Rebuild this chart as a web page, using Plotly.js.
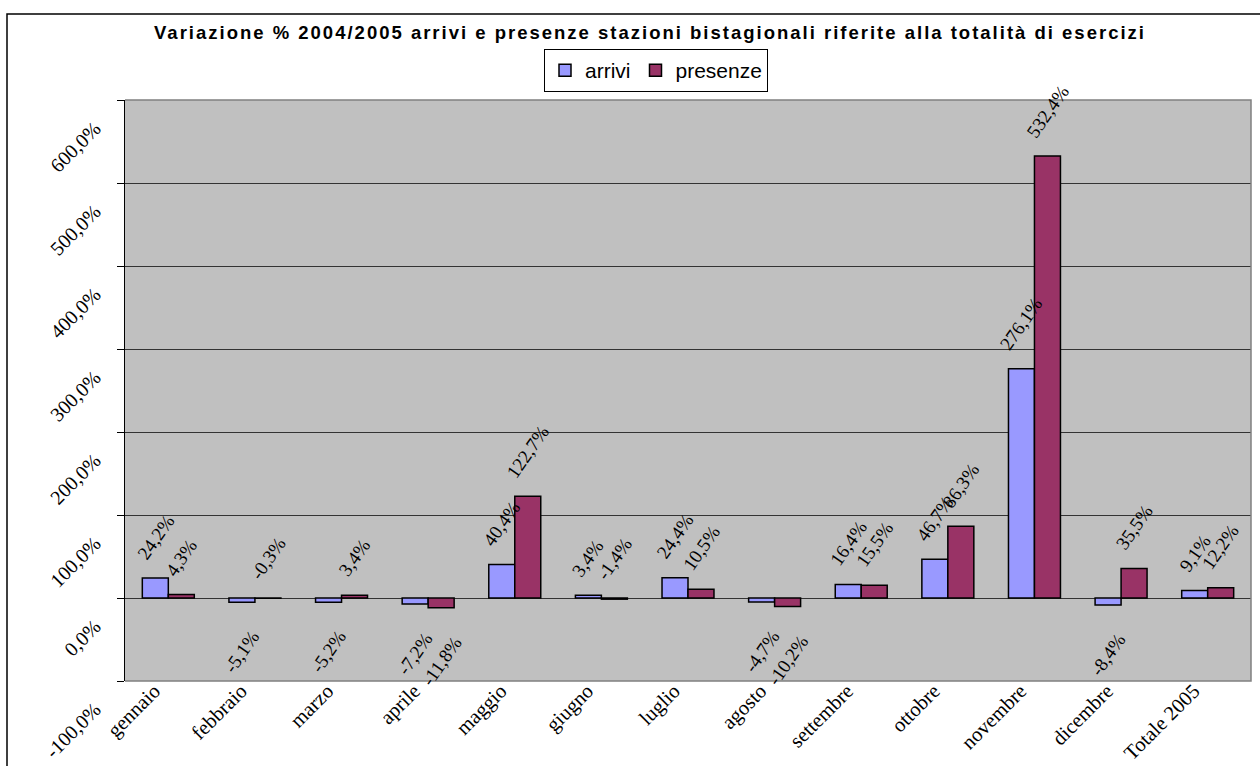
<!DOCTYPE html>
<html>
<head>
<meta charset="utf-8">
<script src="https://cdn.plot.ly/plotly-3.0.1.min.js"></script>
<style>
html,body{margin:0;padding:0;background:#fff;}
#chart{width:1260px;height:766px;}
#chart .gtitle{letter-spacing:2px;}
</style>
</head>
<body>
<div id="chart"></div>
<script>
const months = ["gennaio","febbraio","marzo","aprile","maggio","giugno","luglio","agosto","settembre","ottobre","novembre","dicembre","Totale 2005"];
const arrivi = [24.2,-5.1,-5.2,-7.2,40.4,3.4,24.4,-4.7,16.4,46.7,276.1,-8.4,9.1];
const presenze = [4.3,-0.3,3.4,-11.8,122.7,-1.4,10.5,-10.2,15.5,86.3,532.4,35.5,12.2];
const yTicks = [-100,0,100,200,300,400,500,600];

const W = 1260, H = 766;
const M = {l:125, r:9, t:100, b:85};
const PW = W - M.l - M.r, PH = H - M.t - M.b;
const px2x = p => (p - M.l) / PW;
const px2y = p => (H - M.b - p) / PH;

const fmt = v => v.toFixed(1).replace('.', ',') + '%';
const serif = "'Liberation Serif', 'Times New Roman', serif";
const sans = "'Liberation Sans', Arial, sans-serif";

const traces = [
  {type:'bar', name:'arrivi', x:months, y:arrivi,
   marker:{color:'#9999FF', line:{color:'#000', width:1.5}}, hoverinfo:'x+y'},
  {type:'bar', name:'presenze', x:months, y:presenze,
   marker:{color:'#993366', line:{color:'#000', width:1.5}}, hoverinfo:'x+y'}
];

const annotations = [];
function addLabels(vals, shift) {
  vals.forEach((v, i) => {
    const above = v >= -2;
    annotations.push({
      x: months[i], y: above ? Math.max(v, 0) : v, xref:'x', yref:'y',
      text: fmt(v), showarrow:false, textangle:-55,
      xanchor:'center', yanchor: above ? 'bottom' : 'top',
      xshift: shift, yshift: above ? 12 : -22,
      font:{family:serif, size:19, color:'#000'}
    });
  });
}
addLabels(arrivi, -13);
addLabels(presenze, 13);

const yMin = yTicks[0], yMax = yTicks[yTicks.length-1];
const boundaries = months.map((m,i)=>i-0.5).concat([months.length-0.5]);

const layout = {
  width: W, height: H,
  margin: M,
  paper_bgcolor:'#fff', plot_bgcolor:'#C0C0C0',
  showlegend: true,
  bargap: 0.4, bargroupgap: 0,
  title:{text:'Variazione % 2004/2005 arrivi e presenze stazioni bistagionali riferite alla totalità di esercizi',
    font:{family:sans, size:18.5, color:'#000', weight:'bold'},
    xref:'container', yref:'container', x:650/W, y:1-33/H, xanchor:'center', yanchor:'middle'},
  legend:{orientation:'h', x:px2x(656), xanchor:'center', y:px2y(49), yanchor:'top',
    bgcolor:'#fff', bordercolor:'#000', borderwidth:1,
    font:{family:sans, size:21, color:'#000'}, itemwidth:30},
  xaxis:{type:'category', categoryarray:months, range:[-0.5, months.length-0.5],
    tickangle:-45, tickfont:{family:serif, size:20.5, color:'#000'},
    ticks:'', showline:false, showgrid:false, zeroline:false, ticklabelshift:-14, ticklabelstandoff:-7},
  xaxis2:{overlaying:'x', anchor:'free', position:(0-yMin)/(yMax-yMin),
    range:[-0.5, months.length-0.5], tickmode:'array', tickvals:boundaries,
    ticks:'outside', ticklen:7, tickcolor:'#000', tickwidth:1,
    showticklabels:false, showgrid:false, zeroline:false,
    showline:true, linecolor:'#000', linewidth:1},
  yaxis:{range:[yMin, yMax], tickmode:'array', tickvals:yTicks, ticktext:yTicks.map(fmt),
    tickangle:-45, tickfont:{family:serif, size:20, color:'#000'},
    showline:true, linecolor:'#000', linewidth:1,
    ticks:'outside', ticklen:7, tickcolor:'#000',
    showgrid:true, gridcolor:'#333', gridwidth:1, zeroline:false,
    ticklabelshift:26, ticklabelstandoff:18},
  annotations: annotations,
  shapes:[
    {type:'path', xref:'paper', yref:'paper', layer:'above',
     path:'M0,1 H1 V0 H0', line:{color:'#808080', width:1.5}},
    {type:'rect', xref:'paper', yref:'paper', layer:'above',
     x0:px2x(7), x1:px2x(1265), y0:px2y(775), y1:px2y(14),
     line:{color:'#000', width:1.5}}
  ]
};

Plotly.newPlot('chart', traces, layout, {displayModeBar:false, staticPlot:true});
</script>
</body>
</html>
